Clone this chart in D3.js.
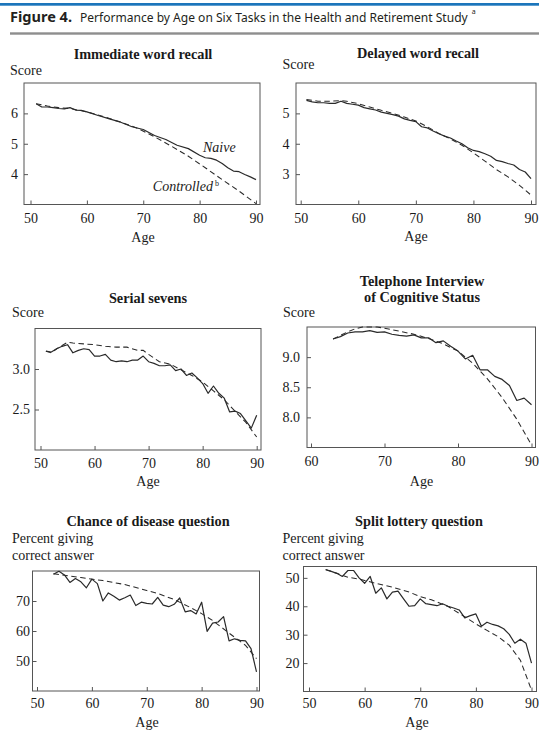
<!DOCTYPE html>
<html>
<head>
<meta charset="utf-8">
<script src="https://cdn.jsdelivr.net/npm/d3@7"></script>
<style>
  html, body { margin: 0; padding: 0; background: #fff; }
  svg { display: block; }
</style>
</head>
<body>
<svg id="fig" width="539" height="731"></svg>
<script>
// ---------- Data: mean performance by age, naive vs. controlled estimates ----------

// Immediate word recall (score)
const immNaiveAge = [51,52,53,54,55,56,57,58,59,60,62,64,66,68,70,72,74,76,78,80,81,82,83,84,85,86,87,88,89,90];
const immNaive    = [6.32,6.21,6.21,6.19,6.16,6.15,6.19,6.11,6.10,6.05,5.93,5.82,5.71,5.56,5.47,5.27,5.14,4.95,4.84,4.62,4.54,4.52,4.46,4.35,4.21,4.10,4.08,3.99,3.91,3.82];
const immCtrlAge  = [51,53,55,57,60,63,66,69,72,75,78,81,84,87,90];
const immCtrl     = [6.32,6.24,6.19,6.16,6.05,5.89,5.71,5.51,5.23,4.92,4.59,4.21,3.82,3.44,3.03];

// Delayed word recall (score)
const delNaiveAge = [51,52,53,54,55,56,57,58,59,60,61,62,63,64,65,66,67,68,69,70,71,72,73,74,75,76,77,78,79,80,81,82,83,84,85,86,87,88,89,90];
const delNaive    = [5.43,5.38,5.35,5.35,5.33,5.33,5.40,5.33,5.30,5.27,5.19,5.15,5.11,5.04,5.00,4.96,4.91,4.82,4.77,4.73,4.56,4.52,4.42,4.33,4.25,4.19,4.09,4.00,3.87,3.78,3.74,3.67,3.59,3.45,3.41,3.35,3.30,3.15,3.07,2.85];
const delCtrlAge  = [51,53,55,57,58,60,62,64,66,68,70,72,74,76,78,80,82,84,86,88,90];
const delCtrl     = [5.46,5.40,5.40,5.42,5.40,5.32,5.21,5.10,5.00,4.88,4.75,4.56,4.34,4.16,3.95,3.70,3.43,3.15,2.91,2.63,2.31];

// Serial sevens (score)
const serNaiveAge = [51,52,53,54,55,56,57,58,59,60,61,62,63,64,65,66,67,68,69,70,71,72,73,74,75,76,77,78,79,80,81,82,83,84,85,86,87,88,89,90];
const serNaive    = [3.22,3.21,3.25,3.28,3.30,3.20,3.23,3.25,3.24,3.16,3.16,3.18,3.11,3.09,3.10,3.09,3.11,3.11,3.16,3.09,3.07,3.04,3.04,3.05,2.98,3.00,2.92,2.95,2.89,2.82,2.70,2.79,2.70,2.64,2.47,2.48,2.45,2.36,2.27,2.43];
const serCtrlAge  = [51,52,53,54,55,56,58,60,62,64,66,68,69,70,72,74,76,78,80,82,84,86,88,90];
const serCtrl     = [3.22,3.20,3.25,3.29,3.33,3.32,3.31,3.30,3.28,3.27,3.27,3.23,3.23,3.18,3.09,3.06,2.99,2.92,2.84,2.73,2.62,2.48,2.34,2.16];

// Telephone Interview of Cognitive Status (score)
const ticsNaiveAge = [63,64,65,66,67,68,69,70,71,72,73,74,75,76,77,78,79,80,81,82,83,84,85,86,87,88,89,90];
const ticsNaive    = [9.30,9.34,9.40,9.42,9.42,9.44,9.41,9.42,9.38,9.36,9.35,9.37,9.32,9.32,9.24,9.27,9.18,9.10,8.97,9.03,8.79,8.79,8.68,8.63,8.53,8.28,8.32,8.21];
const ticsCtrlAge  = [63,64,65,66,67,68,69,70,72,74,76,78,80,82,84,86,88,90];
const ticsCtrl     = [9.30,9.36,9.42,9.47,9.50,9.50,9.50,9.48,9.43,9.38,9.31,9.22,9.10,8.90,8.64,8.33,7.97,7.54];

// Chance of disease question (percent correct)
const disNaiveAge = [53,54,55,56,57,58,59,60,61,62,63,64,65,66,67,68,69,70,71,72,73,74,75,76,77,78,79,80,81,82,83,84,85,86,87,88,89,90];
const disNaive    = [78.9,79.9,78.7,76.2,77.5,76.4,74.4,77.3,75.8,70.0,72.7,71.6,70.3,71.1,72.0,68.5,69.6,69.2,69.0,71.2,68.6,68.1,68.9,71.0,66.4,66.8,65.7,69.6,59.9,62.6,63.0,64.8,56.7,57.4,56.9,56.7,54.1,46.4];
const disCtrlAge  = [53,58,62,66,70,72,75,78,80,82,85,88,90];
const disCtrl     = [79.1,77.8,76.8,75.5,73.5,72.5,70.5,67.8,65.8,63.5,59.3,55.2,50.8];

// Split lottery question (percent correct)
const lotNaiveAge = [53,54,55,56,57,58,59,60,61,62,63,64,65,66,67,68,69,70,71,72,73,74,75,76,77,78,79,80,81,82,83,84,85,86,87,88,89,90];
const lotNaive    = [52.9,52.3,51.6,50.5,52.6,52.6,50.0,48.1,50.5,44.6,46.5,42.6,45.0,45.3,42.6,40.0,40.2,42.6,40.9,40.6,40.2,40.9,40.0,39.4,38.7,35.9,36.7,37.3,33.0,34.4,33.6,33.1,32.1,30.1,27.0,28.4,27.0,20.0];
const lotCtrlAge  = [53,55,57,59,60,62,65,68,70,72,75,78,80,82,84,86,88,90];
const lotCtrl     = [52.9,51.6,50.2,49.6,49.1,48.1,46.7,45.0,43.4,42.3,39.9,36.3,33.8,31.5,29.3,26.3,21.0,10.5];

// Axis ticks
const xTicksFrom50 = [50,60,70,80,90];
const xTicksFrom60 = [60,70,80,90];
const immYTicks  = [4,5,6];
const delYTicks  = [3,4,5];
const serYTicks  = [2.5,3.0];
const ticsYTicks = [8.0,8.5,9.0];
const disYTicks  = [50,60,70];
const lotYTicks  = [20,30,40,50];

// ---------- Layout of the six panels ----------
const panels = [
  { title:["Immediate word recall"], titleX:143, titleY:[58.5],
    yLab:["Score"], yLabX:10, yLabY:[75],
    box:[24,83,260,204.5], xRange:[30.5,256], xDomain:[50,90], yDomain:[3,7],
    xTicks:xTicksFrom50, yTicks:immYTicks, yFmt:d3.format("d"), yPad:6,
    xLabY:222.5, ageY:242, ageX:143,
    naive:[immNaiveAge, immNaive], ctrl:[immCtrlAge, immCtrl] },
  { title:["Delayed word recall"], titleX:418, titleY:[57.5],
    yLab:["Score"], yLabX:282.5, yLabY:[69],
    box:[296,83,536,204.5], xRange:[300.7,531], xDomain:[50,90], yDomain:[2,6],
    xTicks:xTicksFrom50, yTicks:delYTicks, yFmt:d3.format("d"), yPad:6.5,
    xLabY:222.5, ageY:241, ageX:416,
    naive:[delNaiveAge, delNaive], ctrl:[delCtrlAge, delCtrl] },
  { title:["Serial sevens"], titleX:148, titleY:[303],
    yLab:["Score"], yLabX:12, yLabY:[316.5],
    box:[35,328.5,261,450], xRange:[40.5,256.7], xDomain:[50,90], yDomain:[2.0,3.5],
    xTicks:xTicksFrom50, yTicks:serYTicks, yFmt:d3.format(".1f"), yPad:5,
    xLabY:468, ageY:486, ageX:148,
    naive:[serNaiveAge, serNaive], ctrl:[serCtrlAge, serCtrl] },
  { title:["Telephone Interview","of Cognitive Status"], titleX:422, titleY:[286,302],
    yLab:["Score"], yLabX:283, yLabY:[316.5],
    box:[307,327,535.5,447.5], xRange:[311,531.5], xDomain:[60,90], yDomain:[7.5,9.5],
    xTicks:xTicksFrom60, yTicks:ticsYTicks, yFmt:d3.format(".1f"), yPad:7,
    xLabY:466, ageY:486, ageX:421.5,
    naive:[ticsNaiveAge, ticsNaive], ctrl:[ticsCtrlAge, ticsCtrl] },
  { title:["Chance of disease question"], titleX:148, titleY:[526],
    yLab:["Percent giving","correct answer"], yLabX:12, yLabY:[543,559.5],
    box:[32.5,571,259.5,691], xRange:[37,256.5], xDomain:[50,90], yDomain:[40,80],
    xTicks:xTicksFrom50, yTicks:disYTicks, yFmt:d3.format("d"), yPad:2.5,
    xLabY:707.5, ageY:727, ageX:147,
    naive:[disNaiveAge, disNaive], ctrl:[disCtrlAge, disCtrl] },
  { title:["Split lottery question"], titleX:419, titleY:[526],
    yLab:["Percent giving","correct answer"], yLabX:282.5, yLabY:[543,559.5],
    box:[303.5,566.5,536.5,691.5], xRange:[309,531.5], xDomain:[50,90], yDomain:[10,54],
    xTicks:xTicksFrom50, yTicks:lotYTicks, yFmt:d3.format("d"), yPad:4,
    xLabY:707.5, ageY:727, ageX:417,
    naive:[lotNaiveAge, lotNaive], ctrl:[lotCtrlAge, lotCtrl] }
];

const SERIF = '"Liberation Serif","Times New Roman",Times,serif';
const SANS  = '"Noto Sans","Open Sans","DejaVu Sans",sans-serif';
const INK = "#1a1a1a";
const LINE = "#2a2a2a";
const FRAME = "#555";

const svg = d3.select("#fig");

// ---------- Figure heading ----------
svg.append("rect").attr("x",0).attr("y",3).attr("width",539).attr("height",2.7).attr("fill","#1b75bb");
svg.append("rect").attr("x",10).attr("y",32.3).attr("width",529).attr("height",2.4).attr("fill","#8e8e8e");

const head = svg.append("g").attr("font-family", SANS).attr("fill", "#231f20");
head.append("text").attr("x",10).attr("y",21.5)
  .attr("font-weight","bold").attr("font-size",14)
  .attr("textLength",62).attr("lengthAdjust","spacingAndGlyphs")
  .text("Figure 4.");
// main heading: shrink the font until it fits its slot, then hang the footnote marker after it
const headMain = head.append("text").attr("x",80).attr("y",21.5).attr("font-size",14)
  .text("Performance by Age on Six Tasks in the Health and Retirement Study");
const natural = headMain.node().getComputedTextLength();
if (natural > 388) headMain.attr("font-size", 14 * 388 / natural);
const headEnd = 80 + headMain.node().getComputedTextLength();
head.append("text").attr("x", headEnd + 4).attr("y",13.5).attr("font-size",7).text("a");

// ---------- Panels ----------
panels.forEach(p => {
  const [bx0, by0, bx1, by1] = p.box;
  const x = d3.scaleLinear().domain(p.xDomain).range(p.xRange);
  const y = d3.scaleLinear().domain(p.yDomain).range([by1, by0]);
  const g = svg.append("g").attr("font-family", SERIF).attr("fill", INK);

  // panel title (multi-line titles as tspans of one text)
  const tt = g.append("text").attr("text-anchor","middle").attr("font-weight","bold").attr("font-size",14.3);
  p.title.forEach((t, i) => {
    tt.append("tspan").attr("x", p.titleX).attr("y", p.titleY[i]).text(t);
  });
  // y-axis caption
  const yl = g.append("text").attr("font-size",14);
  p.yLab.forEach((t, i) => {
    yl.append("tspan").attr("x", p.yLabX).attr("y", p.yLabY[i]).text(t);
  });

  // frame
  g.append("rect").attr("x",bx0).attr("y",by0).attr("width",bx1-bx0).attr("height",by1-by0)
    .attr("fill","none").attr("stroke",FRAME).attr("stroke-width",1);

  // x axis (ticks pointing inward)
  const xAxis = g.append("g").attr("transform",`translate(0,${by1})`)
    .call(d3.axisBottom(x).tickValues(p.xTicks).tickFormat(d3.format("d"))
      .tickSizeInner(-4).tickSizeOuter(0).tickPadding(p.xLabY - by1 - 9.9));
  // y axis (ticks pointing inward)
  const yAxis = g.append("g").attr("transform",`translate(${bx0},0)`)
    .call(d3.axisLeft(y).tickValues(p.yTicks).tickFormat(p.yFmt)
      .tickSizeInner(-4).tickSizeOuter(0).tickPadding(p.yPad));
  [xAxis, yAxis].forEach(a => {
    a.select(".domain").remove();
    a.attr("font-family", SERIF).attr("font-size", 14);
    a.selectAll(".tick line").attr("stroke", FRAME);
    a.selectAll(".tick text").attr("fill", INK);
  });

  // x-axis caption
  g.append("text").attr("x", p.ageX).attr("y", p.ageY).attr("text-anchor","middle")
    .attr("font-size",14).text("Age");

  const line = d3.line().x(d => x(d[0])).y(d => y(d[1]));
  const naivePts = p.naive[0].map((a, i) => [a, p.naive[1][i]]);
  const ctrlPts  = p.ctrl[0].map((a, i) => [a, p.ctrl[1][i]]);

  g.append("path").datum(ctrlPts).attr("d", line)
    .attr("fill","none").attr("stroke",LINE).attr("stroke-width",1.05)
    .attr("stroke-dasharray","5.5,3.5");
  g.append("path").datum(naivePts).attr("d", line)
    .attr("fill","none").attr("stroke",LINE).attr("stroke-width",1.2)
    .attr("stroke-linejoin","round");

  p.xScale = x; p.yScale = y; p.g = g;
});

// series labels in the first panel
const p0 = panels[0];
p0.g.append("text").attr("x", p0.xScale(80.6)).attr("y", p0.yScale(4.73))
  .attr("font-style","italic").attr("font-size",14).text("Naive");
const ctl = p0.g.append("text").attr("x", p0.xScale(71.7)).attr("y", p0.yScale(3.44))
  .attr("font-style","italic").attr("font-size",14);
ctl.append("tspan").text("Controlled");
ctl.append("tspan").attr("dx",2).attr("dy",-5).attr("font-style","normal").attr("font-size",8).text("b");
</script>
</body>
</html>
